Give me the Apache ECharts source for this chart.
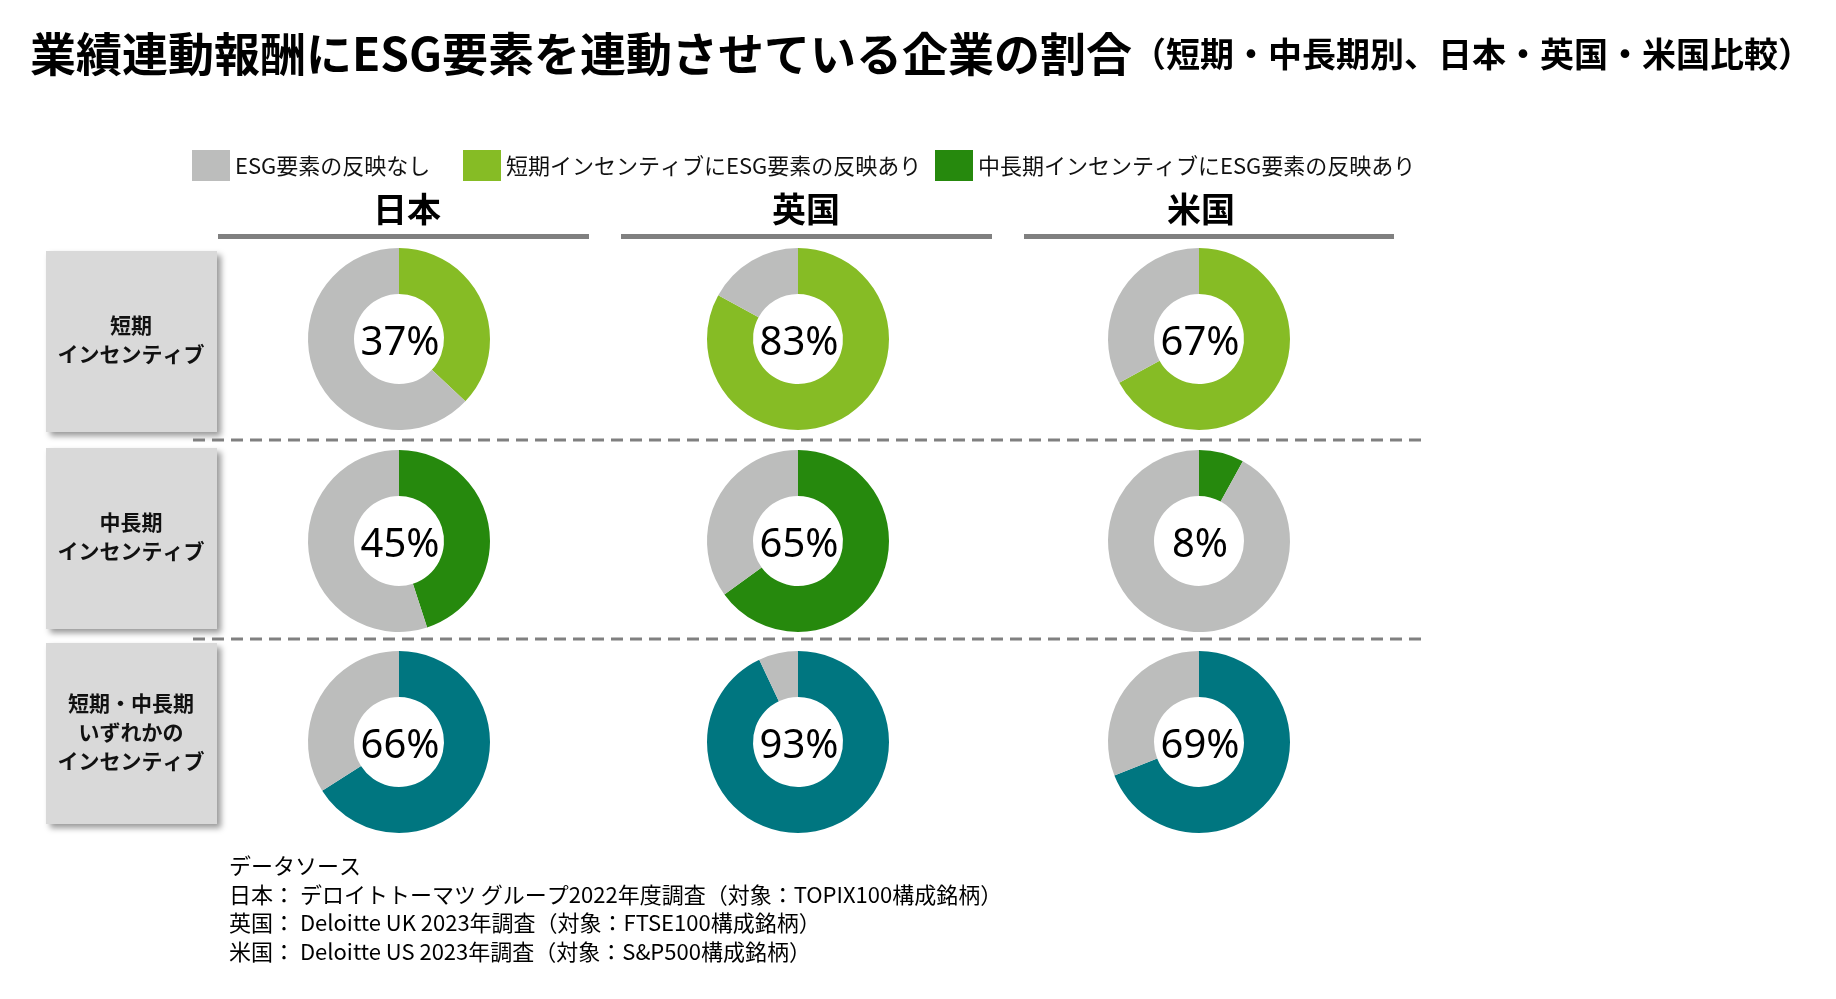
<!DOCTYPE html>
<html>
<head>
<meta charset="utf-8">
<script src="https://cdn.jsdelivr.net/npm/echarts@6/dist/echarts.min.js"></script>
<style>
html,body{margin:0;padding:0;background:#fff;}
#chart{width:1836px;height:999px;}
</style>
</head>
<body>
<div id="chart"></div>
<script>
// ---- data ----
const titleMain = '業績連動報酬にESG要素を連動させている企業の割合';
const titleSub = '（短期・中長期別、日本・英国・米国比較）';
const countries = ['日本', '英国', '米国'];
const rowLabels = ['短期\nインセンティブ', '中長期\nインセンティブ', '短期・中長期\nいずれかの\nインセンティブ'];
const legendNames = ['ESG要素の反映なし', '短期インセンティブにESG要素の反映あり', '中長期インセンティブにESG要素の反映あり'];
const eitherName = '短期・中長期いずれかのインセンティブにESG要素の反映あり';
const shortTerm = [37, 83, 67];     // 日本, 英国, 米国
const midLongTerm = [45, 65, 8];
const eitherTerm = [66, 93, 69];
const sourceLines = [
  'データソース',
  '日本： デロイトトーマツ グループ2022年度調査（対象：TOPIX100構成銘柄）',
  '英国： Deloitte UK 2023年調査（対象：FTSE100構成銘柄）',
  '米国： Deloitte US 2023年調査（対象：S&P500構成銘柄）'
];

// ---- styles / layout ----
const FONT = '"Noto Sans CJK JP", "Noto Sans", sans-serif';
const NUMFONT = '"Noto Sans", "Noto Sans CJK JP", sans-serif';
const GRAY = '#bcbdbc';
const rowColors = ['#86bc25', '#26890d', '#007680'];
const rowNames = [legendNames[1], legendNames[2], eitherName];
const rowValues = [shortTerm, midLongTerm, eitherTerm];
const colX = [399, 798, 1199];
const rowY = [339, 541, 742];
const headerX = [407, 806, 1201];
const underline = [[218, 589], [621, 992], [1024, 1394]];
const boxY = [251, 448, 643];

const chart = echarts.init(document.getElementById('chart'), null, {renderer: 'canvas'});

const series = [];
rowValues.forEach((vals, r) => {
  vals.forEach((v, c) => {
    series.push({
      type: 'pie',
      center: [colX[c], rowY[r]],
      radius: [45, 91],
      startAngle: 90,
      clockwise: true,
      silent: true,
      animation: false,
      emphasis: {disabled: true, scale: false},
      labelLine: {show: false},
      label: {show: false},
      data: [
        {
          name: rowNames[r], value: v,
          itemStyle: {color: rowColors[r]},
          label: {
            show: true, position: 'center',
            formatter: '{c}%',
            offset: [1, 5],
            fontSize: 40, color: '#000', fontFamily: NUMFONT, fontWeight: 'normal'
          }
        },
        {name: legendNames[0], value: 100 - v, itemStyle: {color: GRAY}}
      ]
    });
  });
});

const graphic = [];
// title
graphic.push({
  type: 'text', left: 30, top: 31,
  style: {
    text: '{a|' + titleMain + '}{b|' + titleSub + '}',
    rich: {
      a: {fontSize: 46, fontWeight: 'bold', fontFamily: FONT, fill: '#000', color: '#000'},
      b: {fontSize: 34, fontWeight: 'bold', fontFamily: FONT, fill: '#000', color: '#000'}
    }
  }
});
// column headers and underlines
countries.forEach((name, i) => {
  graphic.push({
    type: 'text', x: headerX[i], y: 209,
    style: {text: name, fontSize: 34, fontWeight: 'bold', fontFamily: FONT, fill: '#000',
            textAlign: 'center', textVerticalAlign: 'middle'}
  });
  graphic.push({
    type: 'rect', shape: {x: underline[i][0], y: 234, width: underline[i][1] - underline[i][0], height: 5},
    style: {fill: '#808080'}
  });
});
// row label boxes
rowLabels.forEach((lab, r) => {
  graphic.push({
    type: 'rect', shape: {x: 46, y: boxY[r], width: 171, height: 181},
    style: {fill: '#d9d9d9', shadowBlur: 6, shadowOffsetX: 4, shadowOffsetY: 4, shadowColor: 'rgba(0,0,0,0.4)'}
  });
  graphic.push({
    type: 'text', x: 131, y: boxY[r] + 89,
    style: {text: lab, fontSize: 21, fontWeight: 'bold', fontFamily: FONT, fill: '#111',
            lineHeight: 29, textAlign: 'center', textVerticalAlign: 'middle'}
  });
});
// dashed separators
[440, 639].forEach(y => {
  graphic.push({
    type: 'line', shape: {x1: 193, y1: y, x2: 1423, y2: y},
    style: {stroke: '#808080', lineWidth: 3, lineDash: [12, 7]}
  });
});
// source text
sourceLines.forEach((t, i) => {
  graphic.push({
    type: 'text', x: 229, y: 866 + i * 28.5,
    style: {text: t, fontSize: 22, fontFamily: FONT, fill: '#000', textVerticalAlign: 'middle'}
  });
});

const legendLeft = [192, 463, 935];
const legends = legendNames.map((n, i) => ({
  left: legendLeft[i], top: 150,
  data: [n],
  icon: 'rect', itemWidth: 38, itemHeight: 31, itemGap: 0,
  selectedMode: false,
  padding: 0,
  textStyle: {fontSize: 22, fontFamily: FONT, color: '#111'}
}));

chart.setOption({
  animation: false,
  backgroundColor: '#ffffff',
  legend: legends,
  series: series,
  graphic: graphic
});
</script>
</body>
</html>
